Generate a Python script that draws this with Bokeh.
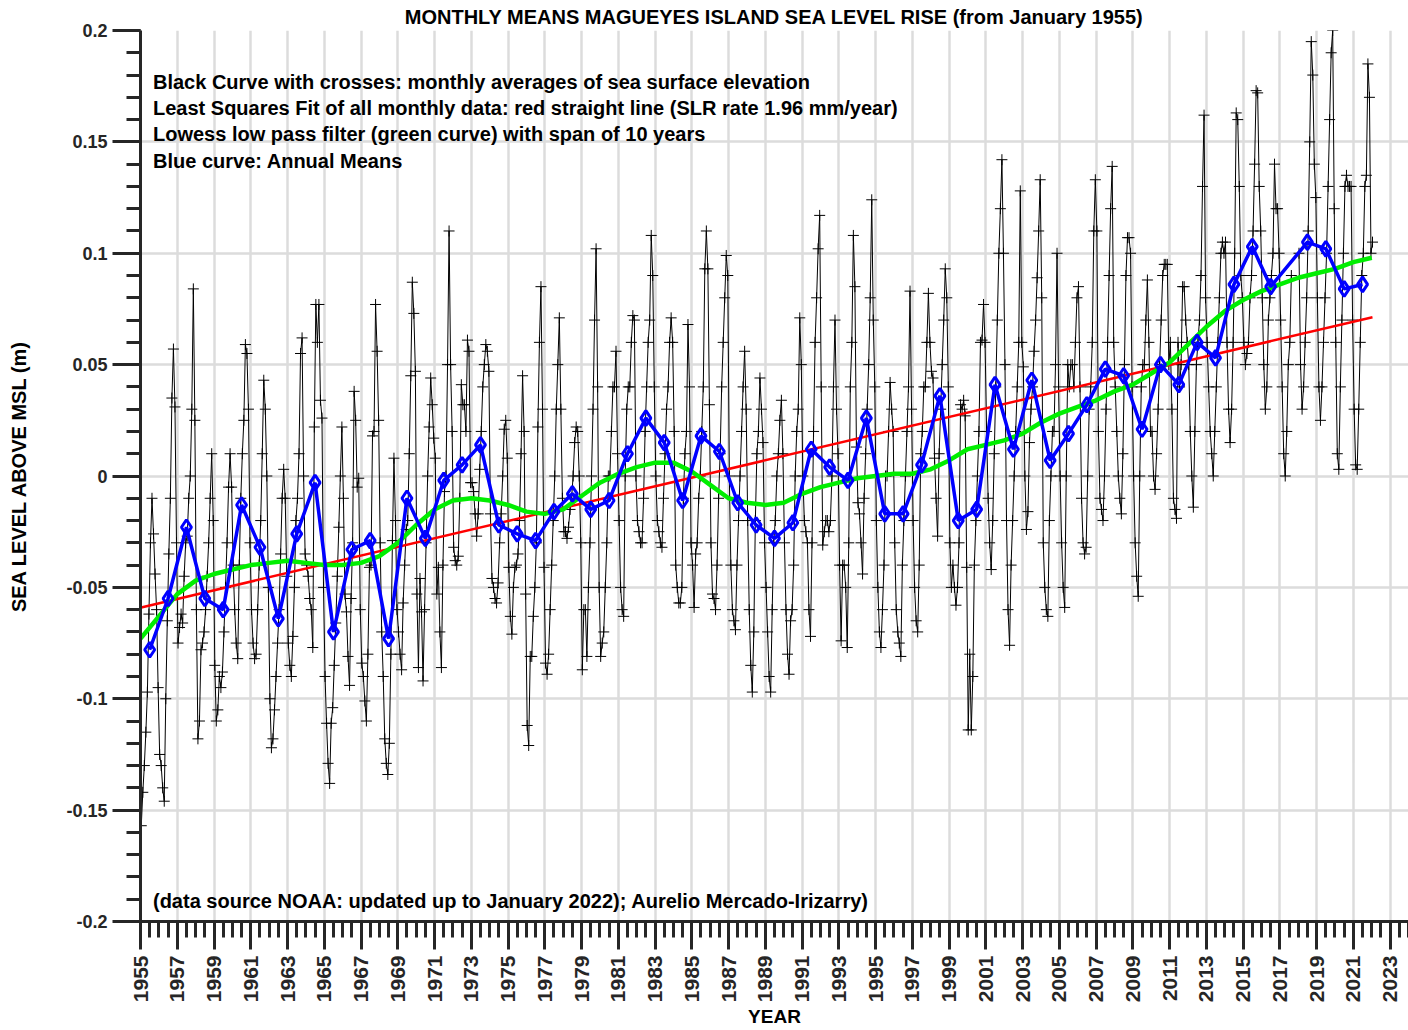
import math
import numpy as np
from bokeh.plotting import figure
from bokeh.models import FixedTicker, Label
from bokeh.embed import file_html
from bokeh.resources import INLINE

NAN = float("nan")

# ---------------- data (metres) ----------------
monthly_1955_1964 = [
    [-0.157, -0.142, -0.130, -0.115, -0.097, -0.062, -0.030, -0.010, -0.026, -0.044, -0.060, -0.095],
    [-0.125, -0.130, -0.140, -0.146, -0.100, -0.065, -0.035, -0.010, 0.035, 0.057, 0.031, -0.030],
    [-0.075, -0.068, -0.062, -0.066, -0.045, -0.030, -0.027, -0.010, 0.000, 0.030, 0.084, 0.025],
    [-0.060, -0.118, -0.110, -0.078, -0.075, -0.070, -0.060, -0.045, -0.030, -0.010, 0.010, -0.020],
    [-0.085, -0.110, -0.105, -0.090, -0.095, -0.088, -0.070, -0.050, -0.030, -0.005, 0.010, -0.005],
    [-0.040, -0.060, -0.075, -0.082, -0.040, -0.010, 0.010, 0.025, 0.059, 0.055, 0.030, -0.030],
    [-0.060, -0.075, -0.082, -0.080, -0.060, -0.040, -0.020, 0.010, 0.043, 0.030, 0.000, -0.050],
    [-0.100, -0.122, -0.118, -0.105, -0.090, -0.075, -0.060, -0.035, -0.010, 0.003, -0.010, -0.045],
    [-0.075, -0.085, -0.090, -0.072, -0.050, -0.020, -0.010, 0.010, 0.055, 0.062, 0.000, -0.035],
    [-0.040, -0.045, -0.055, -0.060, -0.077, 0.022, 0.077, 0.060, 0.077, 0.034, 0.026, -0.050],
]
monthly_1965_1974 = [
    [-0.090, -0.111, -0.129, -0.138, -0.111, -0.104, -0.085, -0.066, -0.045, -0.023, 0.000, 0.022],
    [-0.010, -0.053, -0.061, -0.081, -0.094, -0.055, -0.030, 0.038, 0.025, -0.005, -0.001, -0.060],
    [-0.084, -0.090, -0.101, -0.110, -0.080, -0.041, -0.040, 0.018, 0.020, 0.077, 0.056, 0.025],
    [-0.030, -0.070, -0.090, -0.118, -0.129, -0.134, -0.120, -0.080, -0.029, 0.008, -0.020, -0.060],
    [-0.070, -0.080, -0.087, -0.057, -0.040, -0.024, -0.020, 0.010, 0.045, 0.087, 0.073, 0.047],
    [-0.053, -0.086, -0.046, -0.061, -0.092, -0.060, -0.030, 0.000, 0.022, 0.044, 0.032, 0.017],
    [0.008, -0.053, -0.041, -0.070, -0.086, -0.040, -0.007, 0.000, 0.050, 0.110, 0.050, 0.020],
    [-0.032, -0.038, -0.040, -0.036, -0.010, 0.041, 0.032, 0.032, 0.020, 0.061, 0.056, -0.003],
    [-0.003, -0.007, -0.017, -0.027, -0.017, 0.003, 0.020, 0.040, 0.050, 0.059, 0.056, 0.047],
    [-0.017, -0.046, -0.050, -0.055, -0.057, -0.048, -0.030, -0.017, 0.000, 0.021, 0.025, 0.008],
]
monthly_1975_1984 = [
    [-0.041, -0.063, -0.071, -0.050, -0.041, -0.040, -0.035, -0.020, 0.010, 0.045, 0.020, -0.053],
    [-0.112, -0.121, -0.081, -0.081, -0.063, -0.050, -0.030, 0.022, 0.060, 0.085, 0.030, -0.041],
    [-0.084, -0.089, -0.080, -0.060, -0.040, -0.020, 0.000, 0.030, 0.050, 0.071, 0.030, -0.010],
    [-0.025, -0.025, -0.028, -0.023, -0.015, -0.010, 0.000, 0.015, 0.022, 0.020, 0.000, -0.030],
    [-0.087, -0.060, -0.060, -0.081, -0.050, -0.030, 0.000, 0.030, 0.070, 0.102, 0.040, -0.050],
    [-0.081, -0.075, -0.070, -0.050, -0.030, 0.000, 0.000, 0.020, 0.040, 0.040, 0.056, 0.010],
    [-0.020, -0.050, -0.060, -0.063, 0.000, 0.030, 0.040, 0.040, 0.060, 0.072, 0.070, 0.000],
    [-0.020, -0.025, -0.030, -0.030, -0.010, 0.020, 0.040, 0.060, 0.070, 0.108, 0.090, 0.040],
    [0.000, -0.020, -0.025, -0.030, -0.032, -0.010, 0.010, 0.030, 0.040, 0.060, 0.071, 0.060],
    [0.020, -0.040, -0.050, -0.057, -0.057, -0.050, -0.010, 0.010, 0.020, 0.068, 0.040, -0.030],
]
monthly_1985_1994 = [
    [-0.040, -0.059, -0.035, -0.030, -0.010, 0.000, 0.020, 0.040, 0.093, 0.110, 0.093, 0.032],
    [-0.030, -0.053, -0.055, -0.060, -0.040, -0.010, 0.010, 0.040, 0.060, 0.080, 0.099, 0.090],
    [0.000, -0.040, -0.060, -0.065, -0.069, -0.040, -0.020, 0.000, 0.020, 0.040, 0.056, 0.030],
    [-0.020, -0.060, -0.085, -0.097, -0.070, -0.020, 0.010, 0.020, 0.044, 0.030, 0.015, -0.030],
    [-0.050, -0.070, -0.090, -0.097, -0.060, -0.030, -0.020, 0.000, 0.010, 0.025, 0.034, 0.010],
    [-0.030, -0.060, -0.080, -0.089, -0.065, -0.060, -0.040, 0.000, 0.020, 0.030, 0.071, 0.050],
    [0.000, -0.020, -0.025, -0.030, -0.060, -0.072, -0.030, 0.020, 0.060, 0.080, 0.102, 0.117],
    [0.040, -0.031, -0.025, -0.020, -0.020, -0.025, -0.020, 0.000, 0.040, 0.070, 0.030, 0.010],
    [-0.040, -0.074, -0.040, -0.040, -0.050, -0.077, -0.030, 0.040, 0.060, 0.108, 0.085, 0.013],
    [-0.012, -0.017, -0.030, -0.044, -0.010, 0.010, 0.030, 0.050, 0.080, 0.124, 0.070, 0.040],
]
monthly_1995_2004 = [
    [-0.020, -0.050, -0.070, -0.077, -0.060, -0.040, 0.000, 0.000, 0.020, 0.042, 0.030, 0.020],
    [-0.030, -0.060, -0.070, -0.075, -0.081, -0.040, -0.020, 0.000, 0.020, 0.040, 0.083, 0.030],
    [-0.020, -0.050, -0.065, -0.070, -0.040, 0.010, 0.020, 0.040, 0.040, 0.060, 0.082, 0.060],
    [0.047, 0.044, 0.008, -0.010, -0.027, 0.010, 0.030, 0.050, 0.070, 0.093, 0.080, 0.040],
    [-0.030, -0.050, -0.040, -0.050, -0.058, -0.050, -0.030, 0.032, 0.030, 0.034, 0.027, -0.041],
    [-0.114, -0.080, -0.114, -0.090, -0.040, -0.020, 0.000, 0.020, 0.060, 0.061, 0.077, 0.060],
    [0.020, -0.010, -0.030, -0.042, -0.020, 0.010, 0.040, 0.070, 0.100, 0.120, 0.142, 0.100],
    [0.050, -0.020, -0.060, -0.076, -0.040, -0.020, 0.000, 0.020, 0.040, 0.060, 0.128, 0.060],
    [0.049, 0.000, -0.024, -0.016, 0.015, 0.030, 0.040, 0.056, 0.070, 0.089, 0.110, 0.133],
    [0.080, -0.030, -0.050, -0.060, -0.063, -0.020, 0.000, 0.020, 0.020, 0.050, 0.100, 0.040],
]
monthly_2005_2014 = [
    [0.000, -0.030, -0.050, -0.059, 0.000, 0.050, 0.040, 0.050, 0.050, 0.040, 0.060, 0.080],
    [0.085, 0.040, -0.010, -0.030, -0.035, -0.032, 0.000, 0.030, 0.040, 0.060, 0.110, 0.133],
    [0.110, 0.020, -0.010, -0.015, -0.020, 0.000, 0.030, 0.060, 0.090, 0.120, 0.139, 0.060],
    [0.040, 0.020, 0.000, -0.010, -0.017, 0.010, 0.050, 0.090, 0.107, 0.107, 0.100, 0.040],
    [0.000, -0.030, -0.045, -0.054, 0.000, 0.040, 0.050, 0.050, 0.070, 0.088, 0.060, 0.020],
    [0.020, 0.000, -0.006, 0.010, 0.030, 0.050, 0.070, 0.090, 0.095, 0.095, 0.095, 0.050],
    [0.060, 0.030, -0.010, -0.015, -0.019, 0.060, 0.040, 0.050, 0.085, 0.085, 0.070, 0.060],
    [0.050, 0.020, 0.000, -0.014, 0.020, 0.050, 0.060, 0.070, 0.090, 0.130, 0.162, 0.080],
    [0.060, 0.040, 0.020, 0.010, 0.000, 0.020, 0.040, 0.060, 0.080, 0.100, 0.105, 0.100],
    [0.105, 0.060, 0.030, 0.015, 0.030, 0.060, 0.100, 0.163, 0.160, 0.130, 0.090, 0.080],
]
monthly_2015_2022 = [
    [0.060, 0.050, 0.055, 0.060, 0.080, 0.090, 0.110, 0.140, 0.173, 0.172, 0.130, 0.110],
    [0.080, 0.050, 0.030, 0.040, 0.070, 0.080, 0.090, 0.100, 0.140, 0.120, 0.120, 0.100],
    [0.070, 0.040, 0.010, 0.000, 0.020, 0.050, 0.060, 0.090, NAN, NAN, NAN, NAN],
    [0.100, 0.050, 0.030, 0.040, 0.060, 0.080, 0.110, 0.150, 0.195, 0.180, 0.140, 0.125],
    [0.080, 0.040, 0.025, 0.040, 0.060, 0.080, 0.100, 0.130, 0.160, 0.190, 0.200, 0.120],
    [0.060, 0.010, 0.003, 0.040, 0.070, 0.100, 0.130, 0.135, 0.130, 0.130, 0.130, 0.070],
    [0.030, 0.005, 0.003, 0.030, 0.060, 0.090, 0.100, 0.130, 0.135, 0.185, 0.170, 0.100],
    [0.105],
]

annual_years = list(range(1955, 2017)) + [2018, 2019, 2020, 2021]
annual_means = [
    -0.078, -0.055, -0.023, -0.055, -0.060, -0.013, -0.032, -0.064, -0.026, -0.003,
    -0.070, -0.033, -0.029, -0.073, -0.010, -0.028, -0.002, 0.005, 0.014, -0.022,
    -0.026, -0.029, -0.016, -0.008, -0.015, -0.011, 0.010, 0.026, 0.015, -0.011,
    0.018, 0.011, -0.012, -0.022, -0.028, -0.021, 0.012, 0.004, -0.002, 0.026,
    -0.017, -0.017, 0.005, 0.036, -0.020, -0.015, 0.041, 0.012, 0.043, 0.007,
    0.019, 0.032, 0.048, 0.045, 0.021, 0.050, 0.041, 0.060, 0.053, 0.086,
    0.103, 0.085,
    0.105, 0.102, 0.084, 0.086,
]

lowess_years = list(range(1955, 2023))
lowess_values = [
    -0.073, -0.063, -0.053, -0.047, -0.044, -0.042, -0.040, -0.039, -0.038, -0.039,
    -0.040, -0.040, -0.039, -0.036, -0.030, -0.022, -0.015, -0.011, -0.010, -0.011,
    -0.013, -0.016, -0.017, -0.015, -0.009, -0.003, 0.001, 0.004, 0.006, 0.006,
    0.002, -0.004, -0.010, -0.012, -0.013, -0.012, -0.008, -0.005, -0.003, -0.001,
    0.000, 0.001, 0.001, 0.003, 0.007, 0.012, 0.014, 0.016, 0.019, 0.024,
    0.028, 0.031, 0.034, 0.038, 0.041, 0.046, 0.051, 0.059, 0.067, 0.074,
    0.079, 0.083, 0.086, 0.089, 0.091, 0.093, 0.096, 0.098,
]

trend_years = [1955.04, 2022.04]
trend_values = [-0.059, 0.0713]

x_tick_years = list(range(1955, 2024, 2))
y_tick_values = [-0.2, -0.15, -0.1, -0.05, 0, 0.05, 0.1, 0.15, 0.2]
y_tick_labels = ["-0.2", "-0.15", "-0.1", "-0.05", "0", "0.05", "0.1", "0.15", "0.2"]

title_text = "MONTHLY MEANS MAGUEYES ISLAND SEA LEVEL RISE (from January 1955)"
note_lines = [
    "Black Curve with crosses: monthly averages of sea surface elevation",
    "Least Squares Fit of all monthly data: red straight line (SLR rate 1.96 mm/year)",
    "Lowess low pass filter (green curve) with span of 10 years",
    "Blue curve: Annual Means",
]
note_y = [0.1769, 0.1652, 0.1535, 0.1415]
source_text = "(data source NOAA: updated up to January 2022); Aurelio Mercado-Irizarry)"

# ---------------- assemble monthly series ----------------
rows = (monthly_1955_1964 + monthly_1965_1974 + monthly_1975_1984 +
        monthly_1985_1994 + monthly_1995_2004 + monthly_2005_2014 + monthly_2015_2022)
mx, my = [], []
for i, row in enumerate(rows):
    for m, v in enumerate(row):
        mx.append(1955 + i + (m + 0.5) / 12.0)
        my.append(v)
ax_years = [y + 0.5 for y in annual_years]

FONT = "Liberation Sans"
AXC = "#262626"

p = figure(width=1408, height=1030, x_range=(1955, 2024), y_range=(-0.2, 0.2),
           output_backend="svg", toolbar_location=None,
           min_border_left=140, min_border_right=0, min_border_top=30, min_border_bottom=109)
p.outline_line_color = None
p.background_fill_color = "white"

p.title.text = title_text
p.title.align = "center"
p.title.text_font = FONT
p.title.text_font_style = "bold"
p.title.text_font_size = "20px"
p.title.text_color = "black"
p.title.standoff = 6

p.xaxis.ticker = FixedTicker(ticks=x_tick_years, minor_ticks=list(np.arange(1955, 2024.01, 0.5)))
p.yaxis.ticker = FixedTicker(ticks=y_tick_values, minor_ticks=list(np.round(np.arange(-0.2, 0.2001, 0.01), 3)))
p.yaxis.major_label_overrides = {v: t for v, t in zip(y_tick_values, y_tick_labels)}

for ax in (p.xaxis[0], p.yaxis[0]):
    ax.axis_line_width = 3
    ax.axis_line_color = AXC
    ax.major_tick_line_width = 3
    ax.major_tick_line_color = AXC
    ax.minor_tick_line_width = 3
    ax.minor_tick_line_color = AXC
    ax.major_tick_in = 0
    ax.minor_tick_in = 0
    ax.major_tick_out = 28
    ax.major_label_text_font = FONT
    ax.major_label_text_font_style = "bold"
    ax.major_label_text_color = AXC
    ax.axis_label_text_font = FONT
    ax.axis_label_text_font_style = "bold"
    ax.axis_label_text_color = "black"
p.xaxis.minor_tick_out = 16
p.yaxis.minor_tick_out = 14
p.xaxis.major_label_text_font_size = "21px"
p.xaxis.major_label_orientation = math.pi / 2
p.xaxis.major_label_standoff = 6
p.yaxis.major_label_text_font_size = "18px"
p.yaxis.major_label_standoff = 5

p.yaxis.axis_label = "SEA LEVEL ABOVE MSL (m)"
p.yaxis.axis_label_text_font_size = "20px"
p.yaxis.axis_label_standoff = 33
p.xaxis.axis_label = "YEAR"
p.xaxis.axis_label_text_font_size = "19px"
p.xaxis.axis_label_standoff = 1

p.xgrid.ticker = FixedTicker(ticks=x_tick_years)
p.ygrid.ticker = FixedTicker(ticks=y_tick_values)
for g in (p.xgrid[0], p.ygrid[0]):
    g.grid_line_color = "#dcdcdc"
    g.grid_line_width = 2.5

# monthly
p.line(mx, my, line_color="black", line_width=1)
p.scatter(mx, my, marker="cross", size=11, line_color="black", line_width=1)
# trend
p.line(trend_years, trend_values, line_color="#ff0000", line_width=2.5)
# lowess
p.line(lowess_years, lowess_values, line_color="#00ee00", line_width=4.5)
# annual means
p.line(ax_years, annual_means, line_color="#0000ff", line_width=3.5)
p.scatter(ax_years, annual_means, marker="diamond", size=15, line_color="#0000ff",
          line_width=3, fill_color="white", fill_alpha=0.0)

def add_text(x, y, t, size, align="left"):
    p.add_layout(Label(x=x, y=y, text=t, text_font=FONT, text_font_style="bold",
                       text_font_size=size, text_color="black", text_align=align,
                       text_baseline="middle"))

for t, yv in zip(note_lines, note_y):
    add_text(1955.68, yv, t, "20px")
add_text(1955.68, -0.1910, source_text, "20px")

open("out.html", "w").write(file_html(p, INLINE))
